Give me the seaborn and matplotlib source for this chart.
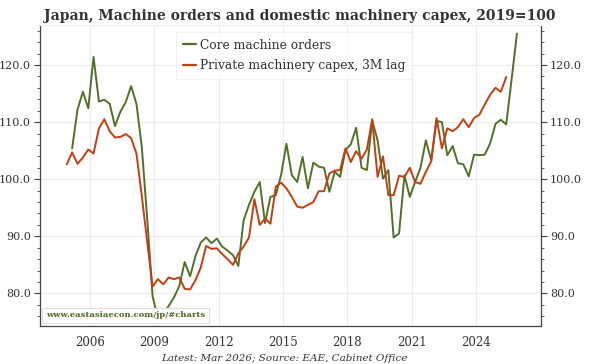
import numpy as np
import pandas as pd
import matplotlib
matplotlib.use("Agg")
import matplotlib.pyplot as plt
import matplotlib.dates as mdates
from matplotlib.ticker import MultipleLocator, FormatStrFormatter, FixedLocator
import seaborn as sns

# ------------------------------------------------------------------
# Data (quarterly; 2019=100)
# ------------------------------------------------------------------
orders_start = "2005-03-01"   # Core machine orders, Q1 2005 .. Q4 2025
core_orders = [
    105.4, 112.2, 115.3, 112.4, 121.4, 113.6, 113.9, 113.2,   # 2005-06
    109.3, 111.8, 113.5, 116.3, 113.2, 105.6, 93.0, 79.5,     # 2007-08
    75.6, 76.5, 77.8, 79.3, 81.3, 85.5, 83.0, 86.5,           # 2009-10
    88.9, 89.8, 88.8, 89.6, 88.2, 87.5, 86.7, 84.8,           # 2011-12
    92.8, 95.5, 97.8, 99.5, 92.3, 96.9, 97.2, 100.8,          # 2013-14
    106.2, 100.7, 99.5, 103.9, 98.4, 102.9, 102.2, 102.0,     # 2015-16
    97.8, 101.3, 100.4, 105.1, 106.1, 109.0, 102.0, 101.6,    # 2017-18
    110.3, 106.8, 100.1, 101.6, 89.8, 90.5, 100.7, 96.9,      # 2019-20
    99.5, 102.0, 106.8, 103.3, 110.2, 110.0, 104.2, 105.8,    # 2021-22
    102.8, 102.6, 100.5, 104.3, 104.2, 104.3, 106.3, 109.7,   # 2023-24
    110.4, 109.6, 117.5, 125.5,                               # 2025
]

capex_start = "2004-12-01"    # Private machinery capex, shifted 3M
machinery_capex = [
    102.6, 104.7, 102.7, 103.8, 105.2, 104.5, 108.9, 110.5,
    108.4, 107.3, 107.4, 107.9, 107.2, 104.5, 97.0, 89.0,
    81.2, 82.5, 81.6, 82.8, 82.5, 82.8, 80.8, 80.7,
    82.3, 84.5, 88.3, 87.8, 87.9, 86.9, 86.0, 85.0,
    87.0, 88.2, 89.8, 96.5, 92.0, 93.1, 92.2, 98.7,
    99.4, 98.4, 96.9, 95.2, 95.0, 95.5, 96.0, 97.9,
    97.9, 101.0, 101.5, 101.6, 105.4, 103.0, 104.9, 103.6,
    105.2, 110.5, 100.4, 104.0, 97.2, 97.2, 100.6, 100.4,
    102.0, 99.5, 99.2, 101.3, 103.1, 110.7, 105.4, 108.9,
    108.4, 109.1, 110.5, 109.1, 110.7, 111.3, 113.1, 114.8,
    116.0, 115.3, 117.9,
]

series_names = ["Core machine orders", "Private machinery capex, 3M lag"]
series_colors = ["#53702a", "#c53e0f"]
tick_years = [2006, 2009, 2012, 2015, 2018, 2021, 2024]

# ------------------------------------------------------------------
# Build long table
# ------------------------------------------------------------------
df_orders = pd.DataFrame({
    "date": pd.date_range(orders_start, periods=len(core_orders), freq="3MS"),
    "value": core_orders,
    "series": series_names[0],
})
df_capex = pd.DataFrame({
    "date": pd.date_range(capex_start, periods=len(machinery_capex), freq="3MS"),
    "value": machinery_capex,
    "series": series_names[1],
})
df = pd.concat([df_orders, df_capex], ignore_index=True)

# ------------------------------------------------------------------
# Plot
# ------------------------------------------------------------------
sns.set_style("white")
plt.rcParams["font.family"] = ["DejaVu Serif"]

text_col = "#333333"
fig = plt.figure(figsize=(6.0, 3.64), dpi=100)
ax = fig.add_axes([0.0667, 0.1044, 0.835, 0.827])

sns.lineplot(data=df, x="date", y="value", hue="series", hue_order=series_names,
             palette=dict(zip(series_names, series_colors)), linewidth=1.4, ax=ax)

ax.set_xlim(pd.Timestamp("2003-09-01"), pd.Timestamp("2027-01-15"))
ax.set_ylim(74.3, 127.0)

major_dates = [mdates.date2num(pd.Timestamp(f"{y}-01-01")) for y in tick_years]
ax.xaxis.set_major_locator(FixedLocator(major_dates))
ax.xaxis.set_minor_locator(mdates.YearLocator(1))
ax.xaxis.set_major_formatter(mdates.DateFormatter("%Y"))
ax.yaxis.set_major_locator(MultipleLocator(10))
ax.yaxis.set_minor_locator(MultipleLocator(2))
ax.yaxis.set_major_formatter(FormatStrFormatter("%.1f"))

ax.grid(True, which="major", color="#ebebeb", linewidth=0.8)
ax.set_axisbelow(True)
ax.set_xlabel("")
ax.set_ylabel("")

for side in ["left", "right", "bottom"]:
    ax.spines[side].set_color("#444444")
    ax.spines[side].set_linewidth(0.9)
ax.spines["top"].set_color("#ebebeb")

ax.tick_params(axis="y", which="both", left=True, right=True, labelleft=True,
               labelright=True, direction="out", color="#444444",
               labelcolor=text_col, labelsize=8, pad=2.5)
ax.tick_params(axis="y", which="major", length=4)
ax.tick_params(axis="y", which="minor", length=2.5)
ax.tick_params(axis="x", which="major", direction="out", length=4,
               color="#444444", labelcolor=text_col, labelsize=8.5, pad=3)
ax.tick_params(axis="x", which="minor", direction="in", length=3, color="#444444")

leg = ax.legend(loc="upper left", bbox_to_anchor=(0.271, 0.977), borderaxespad=0,
                frameon=True, fontsize=8.8, handlelength=1.1, handletextpad=0.3,
                borderpad=0.55, labelspacing=0.6, fancybox=False)
leg.get_frame().set_edgecolor("#eeeeee")
leg.get_frame().set_linewidth(0.8)
for t in leg.get_texts():
    t.set_color(text_col)
for h in leg.get_lines():
    h.set_linewidth(1.6)

ax.text(0.012, 0.022, "www.eastasiaecon.com/jp/#charts", transform=ax.transAxes,
        fontsize=6, fontweight="bold", color="#4a6a1f", ha="left", va="bottom",
        bbox=dict(boxstyle="square,pad=0.45", facecolor="white",
                  edgecolor="#dddddd", linewidth=0.8))

fig.text(0.5, 0.955, "Japan, Machine orders and domestic machinery capex, 2019=100",
         ha="center", va="center", fontsize=10, fontweight="bold", color=text_col)
fig.text(0.68, 0.004, "Latest: Mar 2026; Source: EAE, Cabinet Office",
         ha="right", va="bottom", fontsize=7.5, style="italic", color=text_col)

fig.savefig("out.png", dpi=100, facecolor="white")
